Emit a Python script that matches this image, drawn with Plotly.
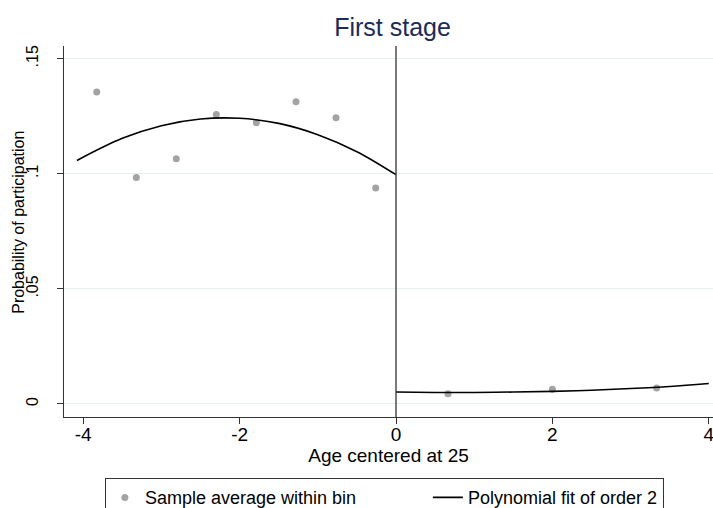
import plotly.graph_objects as go

# ---- data ----
bin_x_left = [-3.827, -3.321, -2.810, -2.298, -1.786, -1.279, -0.767, -0.260]
bin_y_left = [0.1355, 0.0984, 0.1065, 0.1257, 0.1222, 0.1313, 0.1243, 0.0938]
bin_x_right = [0.665, 2.000, 3.333]
bin_y_right = [0.0045, 0.0064, 0.0070]

fit_x_left = [-4.08, -3.5, -3.0, -2.5, -2.0, -1.5, -1.0, -0.5, 0.0]
fit_y_left = [0.1058, 0.1154, 0.1209, 0.1238, 0.1241, 0.1219, 0.1170, 0.1096, 0.0996]
fit_x_right = [0.0, 0.5, 1.0, 1.5, 2.0, 2.5, 3.0, 3.5, 4.0]
fit_y_right = [0.0052, 0.0050, 0.0050, 0.0052, 0.0055, 0.0060, 0.0067, 0.0076, 0.0089]

x_ticks = [-4, -2, 0, 2, 4]
x_tick_labels = ["-4", "-2", "0", "2", "4"]
y_ticks = [0, 0.05, 0.1, 0.15]
y_tick_labels = ["0", ".05", ".1", ".15"]
cutoff = 0

FONT = "Arial, Liberation Sans, sans-serif"
MARKER_COLOR = "#A3A3A3"
GRID_COLOR = "#E6EFF0"
AXIS_COLOR = "#333333"

W, H = 713, 508
L, T = 64, 46
PLOT_BOTTOM = 416.7

fig = go.Figure()

fig.add_trace(go.Scatter(
    x=bin_x_left + bin_x_right, y=bin_y_left + bin_y_right,
    mode="markers", name="Sample average within bin",
    marker=dict(color=MARKER_COLOR, size=7, line=dict(width=0)),
    legendwidth=278,
))
fig.add_trace(go.Scatter(
    x=fit_x_left, y=fit_y_left, mode="lines", name="Polynomial fit of order 2",
    line=dict(color="black", width=1.6, shape="spline"), legendgroup="fit",
))
fig.add_trace(go.Scatter(
    x=fit_x_right, y=fit_y_right, mode="lines", name="Polynomial fit of order 2",
    line=dict(color="black", width=1.6, shape="spline"), legendgroup="fit",
    showlegend=False,
))

fig.add_shape(type="line", xref="x", yref="paper", x0=cutoff, x1=cutoff, y0=0, y1=1,
              line=dict(color=AXIS_COLOR, width=1.3), layer="above")

fig.add_annotation(text="Probability of participation", textangle=-90,
                   xref="paper", yref="paper", x=-0.0700, y=0.525,
                   xanchor="center", yanchor="middle", showarrow=False,
                   font=dict(family=FONT, size=16, color="black"))

fig.update_layout(
    width=W, height=H,
    margin=dict(l=L, r=0, t=T, b=H - PLOT_BOTTOM, autoexpand=False),
    paper_bgcolor="white", plot_bgcolor="white",
    font=dict(family=FONT, size=19, color="black"),
    title=dict(text="First stage", x=392.5 / W, xanchor="center", y=1 - 27 / H, yanchor="middle",
               font=dict(family=FONT, size=25, color="#1C2A5A")),
    showlegend=True,
    legend=dict(orientation="h", x=0.063, xanchor="left", y=-0.165, yanchor="top",
                bordercolor="#333333", borderwidth=1, bgcolor="white",
                font=dict(family=FONT, size=18, color="black"),
                itemwidth=30),
    xaxis=dict(range=[-4.246, 4.054], tickvals=x_ticks, ticktext=x_tick_labels,
               showgrid=False, zeroline=False, showline=True, linecolor=AXIS_COLOR, linewidth=1,
               ticks="outside", ticklen=6, tickcolor=AXIS_COLOR, tickwidth=1,
               tickfont=dict(size=19), ticklabelstandoff=-6, ticklabeloverflow="allow",
               title=dict(text="Age centered at 25", font=dict(size=19), standoff=3),
               automargin=False),
    yaxis=dict(range=[-0.00565, 0.1555], tickvals=y_ticks, ticktext=y_tick_labels,
               showgrid=True, gridcolor=GRID_COLOR, gridwidth=1, zeroline=False,
               showline=True, linecolor=AXIS_COLOR, linewidth=1,
               ticks="outside", ticklen=6, tickcolor=AXIS_COLOR, tickwidth=1,
               tickangle=-90, tickfont=dict(size=16), ticklabelstandoff=13,
               automargin=False),
)

fig.write_html(
    "out.html",
    config={"displayModeBar": False},
    post_script="document.body.style.margin='0';document.body.style.overflow='hidden';",
)
